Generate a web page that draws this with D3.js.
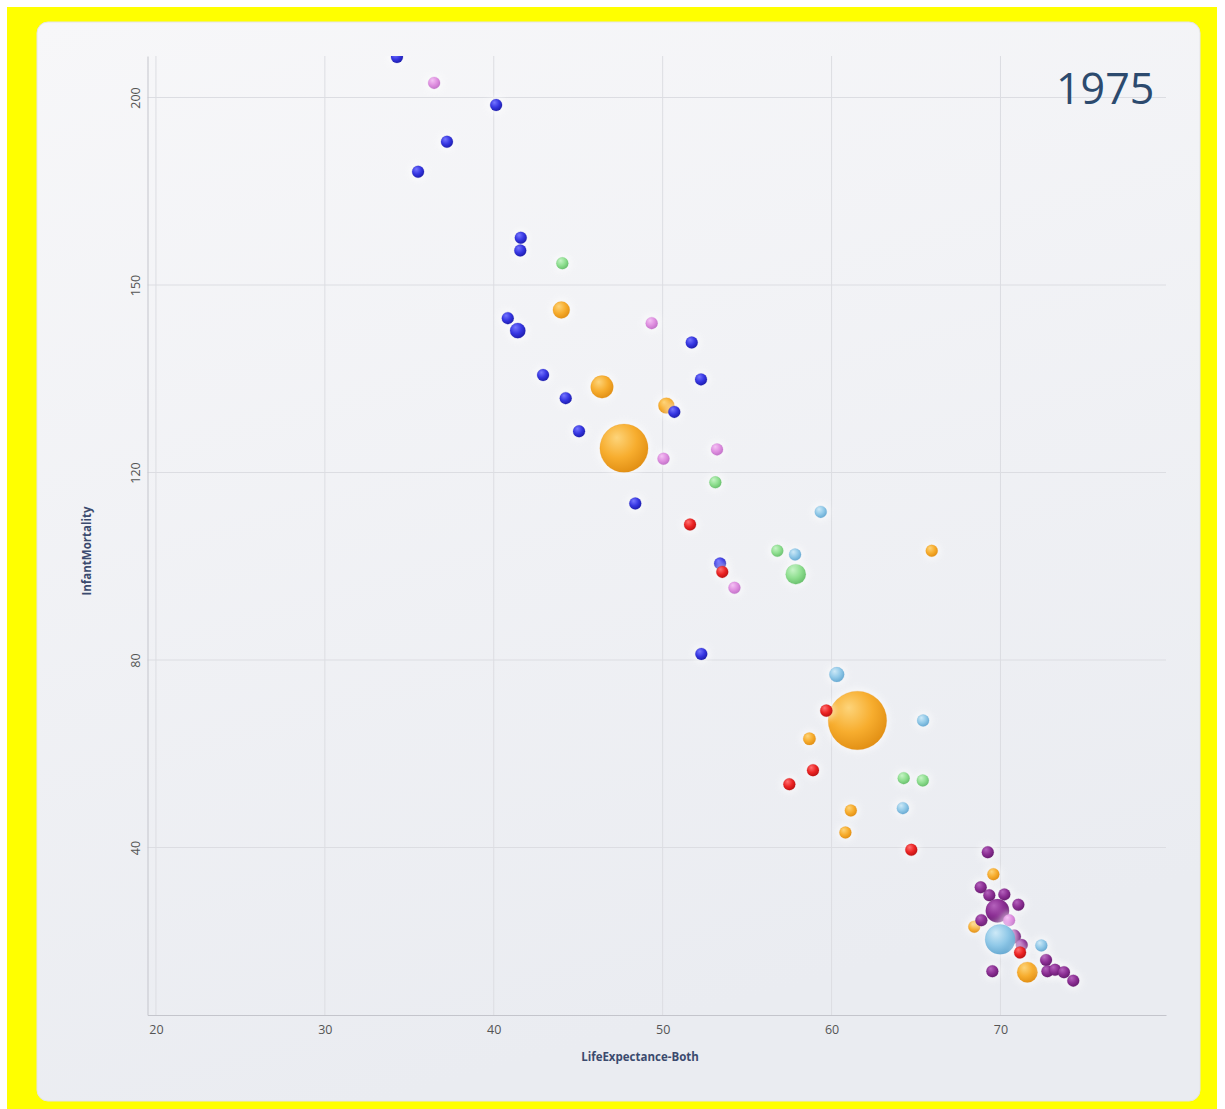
<!DOCTYPE html>
<html>
<head>
<meta charset="utf-8">
<script src="https://cdn.jsdelivr.net/npm/d3@7"></script>
<style>
  html, body { margin: 0; padding: 0; background: #ffffff; }
  svg { display: block; }
  text { font-family: "Open Sans", "Noto Sans", sans-serif; }
</style>
</head>
<body>
<svg id="chart" width="1225" height="1109"></svg>
<script>
// Bubbles per colour group: [life expectancy (years), infant mortality (per 1000), population (millions)]
const blueBubbles = [
  [34.27, 210.8, 8], [40.14, 198.0, 6], [37.23, 188.2, 5], [35.52, 180.2, 3],
  [41.60, 162.6, 12], [41.57, 159.2, 9], [40.83, 144.7, 14], [41.42, 142.7, 63],
  [51.72, 140.8, 10], [42.92, 135.6, 7], [52.27, 134.9, 15], [44.26, 131.9, 16],
  [50.69, 129.7, 13], [45.05, 126.6, 33], [48.38, 113.4, 6], [53.40, 100.6, 20],
  [52.29, 81.3, 3]
];
const pinkBubbles = [
  [36.47, 203.9, 13], [49.35, 143.9, 8], [53.22, 123.7, 7], [50.05, 122.2, 34],
  [54.25, 95.4, 36], [70.51, 24.5, 3]
];
const greenBubbles = [
  [44.06, 155.8, 5], [53.12, 117.9, 15], [56.79, 103.3, 12], [57.88, 98.3, 108],
  [64.27, 54.8, 26], [65.40, 54.3, 10]
];
const orangeBubbles = [
  [44.00, 146.0, 76], [46.41, 133.7, 136], [50.22, 130.7, 68], [47.71, 123.9, 620],
  [65.93, 103.3, 2], [61.53, 67.1, 916], [58.69, 63.2, 42], [61.14, 47.9, 36],
  [60.82, 43.2, 35], [69.58, 34.3, 14], [68.45, 23.1, 4], [71.59, 13.4, 112]
];
const redBubbles = [
  [51.62, 108.9, 3], [53.53, 98.8, 37], [59.69, 69.2, 40], [58.90, 56.5, 17],
  [57.50, 53.5, 6], [64.72, 39.5, 3], [71.16, 17.6, 14]
];
const lightBlueBubbles = [
  [59.36, 111.6, 6], [57.84, 102.5, 12], [60.31, 76.9, 59], [65.42, 67.1, 5],
  [64.22, 48.4, 9], [69.98, 20.4, 240], [72.42, 19.1, 23]
];
const purpleBubbles = [
  [69.25, 39.0, 9], [68.83, 31.5, 21], [69.34, 29.8, 10], [70.23, 30.0, 34],
  [71.06, 27.8, 9], [69.82, 26.5, 146], [68.87, 24.5, 15], [70.80, 21.0, 52],
  [71.26, 19.2, 10], [72.70, 16.0, 8], [69.52, 13.6, 4], [72.78, 13.6, 14],
  [73.23, 13.9, 4], [73.76, 13.4, 5], [74.31, 11.6, 8]
];

// Axis ticks and titles
const xTicks = [20, 30, 40, 50, 60, 70];
const yTicks = [40, 80, 120, 150, 200];
const xTitle = "LifeExpectance-Both";
const yTitle = "InfantMortality";
const yearLabel = "1975";

// Drawing order and palette
const groups = [
  { data: orangeBubbles,    light: "#fdd47a", base: "#f7ad2e", dark: "#e08d12" },
  { data: purpleBubbles,    light: "#b462bc", base: "#8c2f94", dark: "#651a6e" },
  { data: pinkBubbles,      light: "#f4c2f4", base: "#df8fe0", dark: "#c070c6" },
  { data: greenBubbles,     light: "#c6f4c6", base: "#8fdf90", dark: "#66bd6a" },
  { data: lightBlueBubbles, light: "#cde9f7", base: "#91c9e8", dark: "#64a7d0" },
  { data: blueBubbles,      light: "#7676ff", base: "#3636e2", dark: "#1b1ba8" },
  { data: redBubbles,       light: "#ff7070", base: "#ec2424", dark: "#b81010" }
];

const W = 1225, H = 1109;
const plot = { left: 147.5, right: 1166, top: 56, bottom: 1015 };

const svg = d3.select("#chart");
const defs = svg.append("defs");

// Frame
svg.append("rect").attr("x", 7).attr("y", 7).attr("width", 1210).attr("height", H)
  .attr("fill", "#ffff00");

const panelGrad = defs.append("linearGradient").attr("id", "panelGrad")
  .attr("x1", "0").attr("y1", "0").attr("x2", "0.3").attr("y2", "1");
panelGrad.append("stop").attr("offset", "0%").attr("stop-color", "#f7f7f9");
panelGrad.append("stop").attr("offset", "100%").attr("stop-color", "#eaecf1");

svg.append("rect").attr("x", 37).attr("y", 22).attr("width", 1163).attr("height", 1079)
  .attr("rx", 11).attr("fill", "url(#panelGrad)")
  .attr("stroke", "#e4e4e8").attr("stroke-width", 1);

// Scales
const x = d3.scaleLinear().domain([19.5, 79.8]).range([plot.left, plot.right]);

// Evenly spaced y ticks, piecewise-linear between them
const yStep = 187.5, firstTickOffset = 167.5;
const tickPos = yTicks.map((_, i) => plot.bottom - firstTickOffset - i * yStep);
const lowSlope = (yTicks[1] - yTicks[0]) / yStep;
const highSlope = (yTicks[4] - yTicks[3]) / yStep;
const yMin = yTicks[0] - firstTickOffset * lowSlope;
const yMax = yTicks[4] + (tickPos[4] - plot.top) * highSlope;
const y = d3.scaleLinear()
  .domain([yMin, ...yTicks, yMax])
  .range([plot.bottom, ...tickPos, plot.top]);

const maxPop = d3.max(groups.flatMap(g => g.data), d => d[2]);
const rScale = d3.scaleSqrt().domain([0, maxPop]).range([0, 29.3]);
const minRadius = 6;
const radius = p => Math.max(minRadius, rScale(p));

// Grid
const grid = svg.append("g");
grid.selectAll(".vg").data(xTicks).join("line")
  .attr("x1", d => x(d)).attr("x2", d => x(d))
  .attr("y1", plot.top).attr("y2", plot.bottom)
  .attr("stroke", "#dcdde2").attr("stroke-width", 1);
grid.selectAll(".hg").data(yTicks).join("line")
  .attr("x1", plot.left).attr("x2", plot.right)
  .attr("y1", d => y(d)).attr("y2", d => y(d))
  .attr("stroke", "#dcdde2").attr("stroke-width", 1);

// Axes
const xAxis = svg.append("g").attr("transform", `translate(0,${plot.bottom})`)
  .call(d3.axisBottom(x).tickValues(xTicks).tickSize(0).tickPadding(10));
xAxis.select(".domain").attr("stroke", "#c4c5cc");
xAxis.selectAll("text").attr("fill", "#555").attr("font-size", "12.5px");

const yAxis = svg.append("g").attr("transform", `translate(${plot.left},0)`)
  .call(d3.axisLeft(y).tickValues(yTicks).tickSize(0).tickPadding(0));
yAxis.select(".domain").attr("stroke", "#c4c5cc");
yAxis.selectAll("text")
  .attr("fill", "#555").attr("font-size", "12.5px")
  .attr("text-anchor", "middle").attr("x", 0).attr("dy", 0)
  .attr("transform", "translate(-8,0) rotate(-90)");

// Axis titles
svg.append("text").attr("x", 640).attr("y", 1061).attr("text-anchor", "middle")
  .attr("font-size", "11.5px").attr("font-weight", "bold").attr("fill", "#3b4a6e")
  .text(xTitle);
svg.append("text").attr("transform", "translate(91,551) rotate(-90)")
  .attr("text-anchor", "middle")
  .attr("font-size", "11.5px").attr("font-weight", "bold").attr("fill", "#3b4a6e")
  .text(yTitle);

// Year
svg.append("text").attr("x", 1056).attr("y", 104)
  .attr("font-size", "43px").attr("fill", "#2c4a6e")
  .text(yearLabel);

// Bubble shading
groups.forEach((g, i) => {
  const rg = defs.append("radialGradient").attr("id", "ball" + i)
    .attr("cx", "0.4").attr("cy", "0.35").attr("r", "0.7").attr("fx", "0.35").attr("fy", "0.28");
  rg.append("stop").attr("offset", "0%").attr("stop-color", g.light);
  rg.append("stop").attr("offset", "55%").attr("stop-color", g.base);
  rg.append("stop").attr("offset", "100%").attr("stop-color", g.dark);
});
const glow = defs.append("filter").attr("id", "glow")
  .attr("x", "-50%").attr("y", "-50%").attr("width", "200%").attr("height", "200%");
glow.append("feGaussianBlur").attr("stdDeviation", 3);

defs.append("clipPath").attr("id", "plotClip").append("rect")
  .attr("x", plot.left).attr("y", plot.top)
  .attr("width", plot.right - plot.left).attr("height", plot.bottom - plot.top);

const marks = svg.append("g").attr("clip-path", "url(#plotClip)");

groups.forEach((g, i) => {
  const layer = marks.append("g");
  layer.selectAll(".halo").data(g.data).join("circle")
    .attr("cx", d => x(d[0])).attr("cy", d => y(d[1]))
    .attr("r", d => radius(d[2]) + 3)
    .attr("fill", "#ffffff").attr("opacity", 0.55).attr("filter", "url(#glow)");
  layer.selectAll(".ball").data(g.data).join("circle")
    .attr("cx", d => x(d[0])).attr("cy", d => y(d[1]))
    .attr("r", d => radius(d[2]))
    .attr("fill", `url(#ball${i})`)
    .attr("stroke", g.dark).attr("stroke-opacity", 0.25).attr("stroke-width", 0.8);
});
</script>
</body>
</html>
